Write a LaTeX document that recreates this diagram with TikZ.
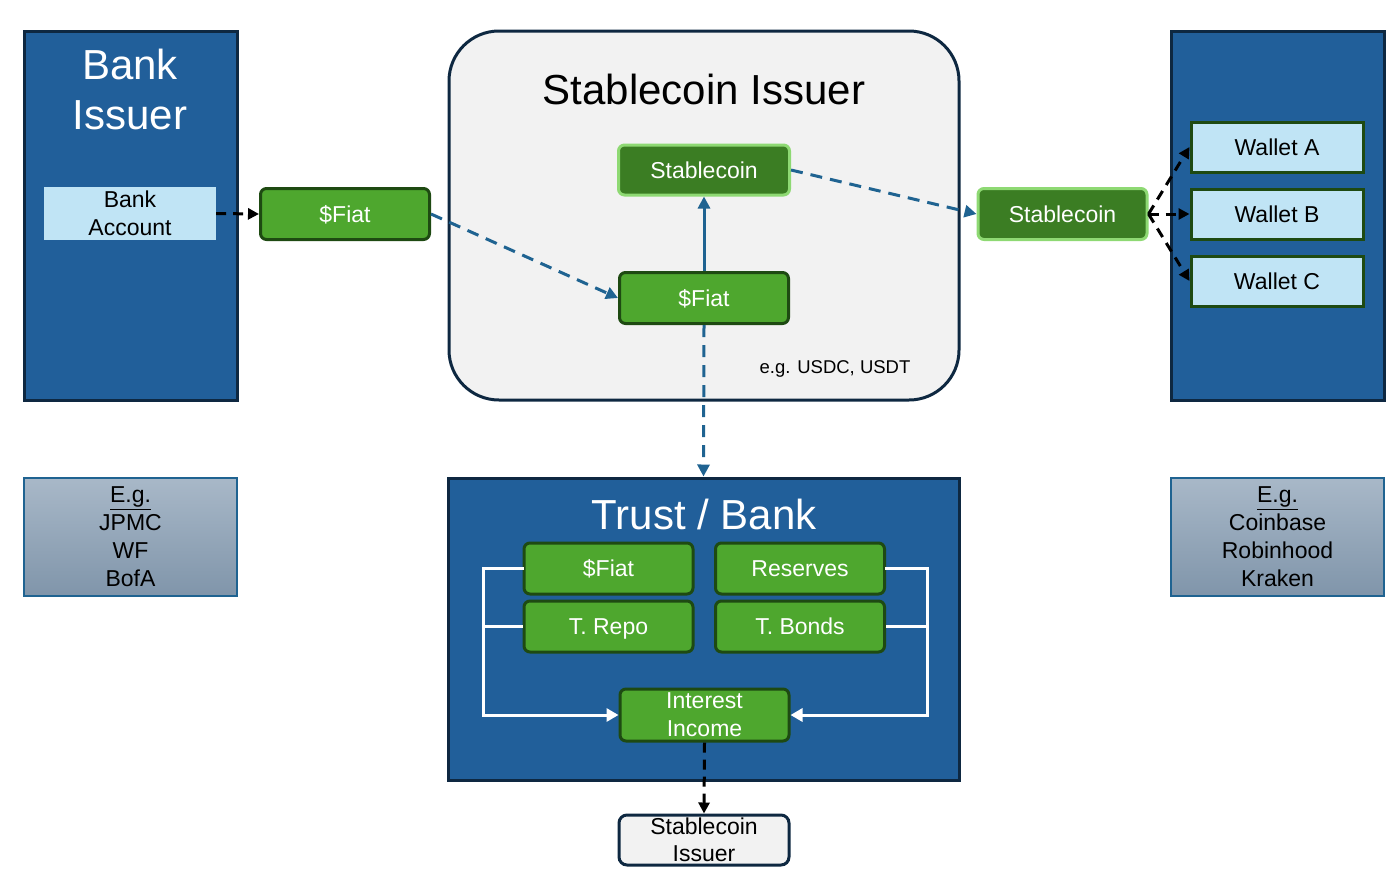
\documentclass[tikz,border=0pt]{standalone}
\usepackage{fontspec}
\setmainfont{Liberation Sans}
\usetikzlibrary{arrows.meta}
\definecolor{boxblue}{HTML}{215F9A}
\definecolor{navy}{HTML}{0E2841}
\definecolor{gfill}{HTML}{4EA72E}
\definecolor{gdark}{HTML}{1E4A12}
\definecolor{sfill}{HTML}{3B7D23}
\definecolor{sborder}{HTML}{8ED973}
\definecolor{lblue}{HTML}{C0E4F5}
\definecolor{flow}{HTML}{1F6391}
\definecolor{issuerbg}{HTML}{F2F2F2}
\definecolor{egtop}{HTML}{A8B8C8}
\definecolor{egbot}{HTML}{8095AA}
\tikzset{
  bigblue/.style={draw=navy, fill=boxblue, line width=3pt, inner sep=0pt},
  greenbox/.style={draw=gdark, fill=gfill, rounded corners=6pt, line width=3pt, text=white,
    minimum width=169pt, minimum height=51pt, inner sep=0pt, align=center,
    font=\fontsize{23}{28}\selectfont},
  oneline/.style={text height=20pt, text depth=4pt},
  coinbox/.style={greenbox, oneline, fill=sfill, draw=sborder},
  walletbox/.style={draw=gdark, fill=lblue, line width=3pt, text=black, oneline,
    minimum width=172pt, minimum height=50pt, inner sep=0pt,
    font=\fontsize{23}{28}\selectfont},
  egbox/.style={draw=flow, line width=2pt, top color=egtop, bottom color=egbot,
    minimum width=213pt, minimum height=118pt, inner sep=0pt, align=center,
    font=\fontsize{23}{28}\selectfont},
  bigtitle/.style={text=white, align=center, font=\fontsize{42}{50}\selectfont, inner sep=0pt},
  arr/.style={-{Triangle[length=12pt,width=12pt]}},
  flowdash/.style={arr, draw=flow, line width=3pt, dash pattern=on 12pt off 8pt},
  flowsolid/.style={arr, draw=flow, line width=3pt},
  blackdash/.style={-{Triangle[length=11pt,width=11pt]}, draw=black, line width=3pt, dash pattern=on 10pt off 7pt},
  whiteline/.style={draw=white, line width=3pt},
}
\begin{document}
\begin{tikzpicture}[x=1pt,y=-1pt]
\useasboundingbox (0,0) rectangle (1396,886);

% Bank issuer column
\node[bigblue, minimum width=213pt, minimum height=369pt] (bankbox) at (130.5,215.5) {};
\node[bigtitle] (banktitle) at (130,89) {Bank\\Issuer};
\node[fill=lblue, minimum width=172pt, minimum height=53pt, inner sep=0pt, align=center,
  font=\fontsize{23}{28}\selectfont] (bankacct) at (130,213.5) {Bank\\Account};
\node[greenbox, oneline] (fiat1) at (345,214) {\$Fiat};

% Stablecoin issuer
\node[draw=navy, fill=issuerbg, line width=3pt, rounded corners=50pt,
  minimum width=510pt, minimum height=369pt, inner sep=0pt] (issuer) at (704,215.5) {};
\node[inner sep=0pt, font=\fontsize{42}{50}\selectfont] (issuertitle) at (704,89) {Stablecoin Issuer};
\node[coinbox, minimum height=50pt, minimum width=171pt] (coin1) at (704,170) {Stablecoin};
\node[greenbox, oneline] (fiat2) at (704,298) {\$Fiat};
\node[inner sep=0pt, font=\fontsize{18.5}{22}\selectfont] (egusd) at (835,369) {e.g. USDC, USDT};

% Right column
\node[bigblue, minimum width=213pt, minimum height=369pt] (rightbox) at (1277.5,215.5) {};
\node[coinbox, minimum width=169pt] (coin2) at (1062.5,214) {Stablecoin};
\node[walletbox] (walletA) at (1277,147) {Wallet A};
\node[walletbox] (walletB) at (1277,214) {Wallet B};
\node[walletbox] (walletC) at (1277,281) {Wallet C};

% Example boxes
\node[egbox] (egL) at (130.5,537) {\underline{E.g.}\\JPMC\\WF\\BofA};
\node[egbox] (egR) at (1277.5,537) {\underline{E.g.}\\Coinbase\\Robinhood\\Kraken};

% Trust / Bank
\node[bigblue, minimum width=511pt, minimum height=302pt] (trust) at (703.5,629) {};
\node[bigtitle] (trusttitle) at (704,514) {Trust / Bank};
\node[greenbox, oneline] (tfiat) at (608.5,568.5) {\$Fiat};
\node[greenbox, oneline] (reserves) at (800,568.5) {Reserves};
\node[greenbox, oneline] (trepo) at (608.5,626.5) {T. Repo};
\node[greenbox, oneline] (tbonds) at (800,626.5) {T. Bonds};
\node[greenbox, minimum height=52pt] (interest) at (704.5,715) {Interest\\Income};
\node[draw=navy, fill=issuerbg, line width=3pt, rounded corners=8pt,
  minimum width=170pt, minimum height=50pt, inner sep=0pt, align=center,
  font=\fontsize{23}{27}\selectfont] (issuer2) at (704,840) {Stablecoin\\Issuer};

% White rails
\coordinate (lrailTop) at (483,568.5);
\coordinate (lrailMid) at (483,626.5);
\coordinate (rrailTop) at (927,568.5);
\coordinate (rrailMid) at (927,626.5);
\draw[whiteline, line cap=rect] (tfiat.west) -- (lrailTop);
\draw[whiteline, -{Triangle[length=12pt,width=13pt]}] (lrailTop) |- (interest.west);
\draw[whiteline] (trepo.west) -- (lrailMid);
\draw[whiteline, line cap=rect] (reserves.east) -- (rrailTop);
\draw[whiteline, -{Triangle[length=12pt,width=13pt]}] (rrailTop) |- (interest.east);
\draw[whiteline] (tbonds.east) -- (rrailMid);

% Connectors
\draw[blackdash] (bankacct.east) -- (fiat1.west);
\draw[flowdash] (fiat1.east) -- (fiat2.west);
\draw[flowsolid] (fiat2.north) -- (coin1.south);
\draw[flowdash] (coin1.east) -- (coin2.west);
\draw[flowdash] (fiat2.south) -- (trust.north);
\draw[blackdash] (interest.south) -- (issuer2.north);
\draw[blackdash] (coin2.east) -- (walletA.west);
\draw[blackdash] (coin2.east) -- (walletB.west);
\draw[blackdash] (coin2.east) -- (walletC.west);
\end{tikzpicture}
\end{document}
